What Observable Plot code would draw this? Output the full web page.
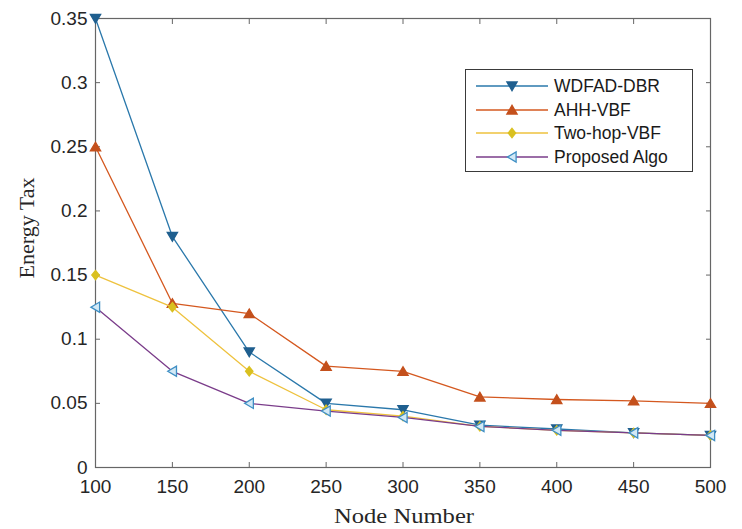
<!DOCTYPE html>
<html>
<head>
<meta charset="utf-8">
<script src="https://cdn.jsdelivr.net/npm/d3@7"></script>
<script src="https://cdn.jsdelivr.net/npm/@observablehq/plot@0.6"></script>
<style>
  html, body { margin: 0; padding: 0; background: #fff; }
  #wrap { position: relative; width: 742px; height: 529px; }
  #legend { position: absolute; left: 465px; top: 69px; width: 228px; height: 103px;
    border: 1px solid #3a3a3a; background: #fff; font-family: "Liberation Sans", Arial, sans-serif;
    font-size: 17.5px; color: #1a1a1a; box-sizing: border-box; }
  .item { position: absolute; left: 10px; height: 22px; display: flex; align-items: center; }
  .item span { margin-left: 6px; }
</style>
</head>
<body>
<div id="wrap"><div id="legend"></div></div>
<script>
const nodes = [100, 150, 200, 250, 300, 350, 400, 450, 500];
const seriesNames = ["WDFAD-DBR", "AHH-VBF", "Two-hop-VBF", "Proposed Algo"];
const wdfad = [0.35, 0.18, 0.09, 0.05, 0.045, 0.033, 0.030, 0.027, 0.025];
const ahh = [0.25, 0.128, 0.12, 0.079, 0.075, 0.055, 0.053, 0.052, 0.050];
const twohop = [0.15, 0.125, 0.075, 0.045, 0.040, 0.032, 0.029, 0.027, 0.025];
const proposed = [0.125, 0.075, 0.05, 0.044, 0.039, 0.032, 0.029, 0.027, 0.025];
const xTicks = [100, 150, 200, 250, 300, 350, 400, 450, 500];
const yTicks = [0, 0.05, 0.1, 0.15, 0.2, 0.25, 0.3, 0.35];
const yTickLabels = ["0", "0.05", "0.1", "0.15", "0.2", "0.25", "0.3", "0.35"];

const lineColors = ["#2a78ab", "#d4581f", "#eec23e", "#7a3c8a"];
const markerFill = ["#1f5f8f", "#c4501c", "#d9c020", "#d3e9f6"];
const markerStroke = ["#1f5f8f", "#c4501c", "#d9c020", "#3f8fc4"];

// custom symbols
const triDown = { draw(ctx, size) { const r = Math.sqrt(size / 1.3); ctx.moveTo(-r, -r*0.8); ctx.lineTo(r, -r*0.8); ctx.lineTo(0, r*0.9); ctx.closePath(); } };
const triUp = { draw(ctx, size) { const r = Math.sqrt(size / 1.3); ctx.moveTo(-r, r*0.8); ctx.lineTo(r, r*0.8); ctx.lineTo(0, -r*0.9); ctx.closePath(); } };
const diamond = { draw(ctx, size) { const r = Math.sqrt(size / 1.6); ctx.moveTo(0, -r); ctx.lineTo(r*0.8, 0); ctx.lineTo(0, r); ctx.lineTo(-r*0.8, 0); ctx.closePath(); } };
const triLeft = { draw(ctx, size) { const r = Math.sqrt(size / 1.3); ctx.moveTo(r*0.8, -r); ctx.lineTo(r*0.8, r); ctx.lineTo(-r*0.9, 0); ctx.closePath(); } };
const symbols = [triDown, triUp, diamond, triLeft];

const allSeries = [wdfad, ahh, twohop, proposed];
const data = allSeries.map((vals, i) => nodes.map((n, j) => ({ series: seriesNames[i], idx: i, x: n, y: vals[j] })));

const marks = [];
data.forEach((d, i) => {
  marks.push(Plot.line(d, { x: "x", y: "y", stroke: lineColors[i], strokeWidth: 1.3 }));
  marks.push(Plot.dot(d, { x: "x", y: "y", symbol: () => symbols[i], r: 3.3, fill: markerFill[i], stroke: markerStroke[i], strokeWidth: 1.3 }));
});

const chart = Plot.plot({
  width: 742, height: 529,
  marginLeft: 95, marginRight: 32, marginTop: 18, marginBottom: 62,
  style: { fontFamily: "'Liberation Sans', Arial, sans-serif", fontSize: "19px", color: "#262626", background: "#fff" },
  x: { domain: [100, 500] },
  y: { domain: [0, 0.35] },
  symbol: { type: "identity" },
  marks: [
    Plot.frame({ stroke: "#666", strokeWidth: 1.2 }),
    Plot.axisX(xTicks, { anchor: "bottom", tickSize: -5, tickPadding: 17, label: null, tickFormat: d => String(d), stroke: "#666" }),
    Plot.axisX(xTicks, { anchor: "top", tickSize: -5, label: null, tickFormat: () => "", stroke: "#666" }),
    Plot.axisY(yTicks, { anchor: "left", tickSize: -5, tickPadding: 13, label: null, tickFormat: (d, i) => yTickLabels[i], stroke: "#666" }),
    Plot.axisY(yTicks, { anchor: "right", tickSize: -5, label: null, tickFormat: () => "", stroke: "#666" }),
    ...marks
  ]
});

// axis titles as SVG text
const svg = d3.select(chart);
svg.append("text").attr("x", 404).attr("y", 523).attr("text-anchor", "middle")
  .attr("font-family", "'Liberation Serif', 'Times New Roman', serif").attr("font-size", 22).attr("fill", "#262626")
  .attr("textLength", 140).attr("lengthAdjust", "spacingAndGlyphs").text("Node Number");
svg.append("text").attr("transform", "translate(34,228) rotate(-90)").attr("text-anchor", "middle")
  .attr("font-family", "'Liberation Serif', 'Times New Roman', serif").attr("font-size", 22).attr("fill", "#262626").text("Energy Tax");

document.getElementById("wrap").prepend(chart);

// legend
const legend = document.getElementById("legend");
const ys = [5, 29, 52, 76];
seriesNames.forEach((name, i) => {
  const item = document.createElement("div");
  item.className = "item";
  item.style.top = ys[i] + "px";
  const ns = "http://www.w3.org/2000/svg";
  const s = document.createElementNS(ns, "svg");
  s.setAttribute("width", 72); s.setAttribute("height", 22);
  const ln = document.createElementNS(ns, "line");
  ln.setAttribute("x1", 0); ln.setAttribute("x2", 72); ln.setAttribute("y1", 11); ln.setAttribute("y2", 11);
  ln.setAttribute("stroke", lineColors[i]); ln.setAttribute("stroke-width", 1.3);
  s.appendChild(ln);
  const p = document.createElementNS(ns, "path");
  const path = d3.path(); symbols[i].draw(path, Math.PI * 3.3 * 3.3);
  p.setAttribute("d", path.toString());
  p.setAttribute("transform", "translate(36,11)");
  p.setAttribute("fill", markerFill[i]); p.setAttribute("stroke", markerStroke[i]); p.setAttribute("stroke-width", 1.3);
  s.appendChild(p);
  item.appendChild(s);
  const t = document.createElement("span"); t.textContent = name;
  item.appendChild(t);
  legend.appendChild(item);
});
</script>
</body>
</html>
